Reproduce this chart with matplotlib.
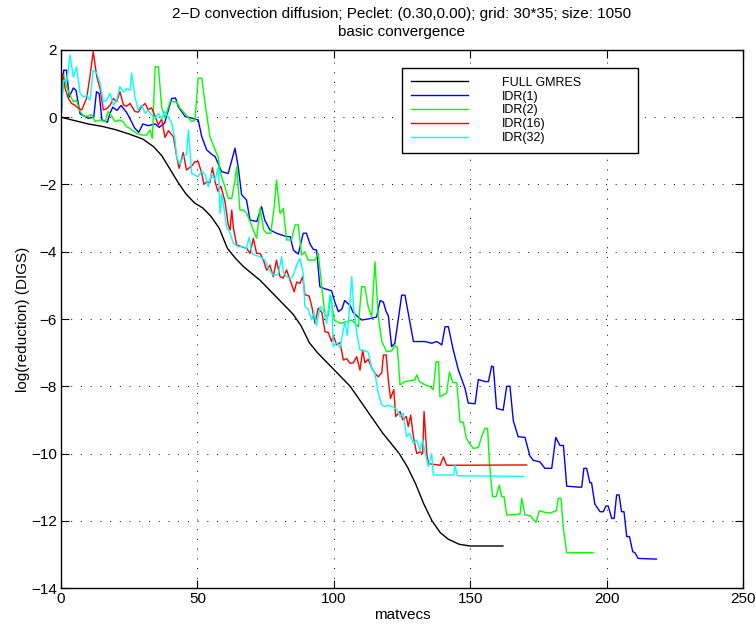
import matplotlib
matplotlib.use("Agg")
import matplotlib.pyplot as plt

plt.rcParams['font.family'] = ['Liberation Sans', 'DejaVu Sans']

# ---- data: (matvecs, log reduction) ----
full_gmres = [(0, 0), (5, -0.1), (10, -0.2), (15, -0.27), (20, -0.37), (25, -0.5),
              (30, -0.65), (34, -0.88), (37, -1.15), (40, -1.55), (43, -1.95),
              (46, -2.3), (49, -2.55), (52, -2.7), (55, -2.95), (58, -3.3),
              (61, -3.9), (64, -4.2), (67, -4.45), (70, -4.65), (73, -4.85),
              (76, -5.1), (79, -5.35), (82, -5.6), (85, -5.85), (88, -6.2),
              (91, -6.7), (94, -7.0), (97, -7.25), (100, -7.5), (103, -7.75),
              (106, -8.0), (109, -8.35), (112, -8.7), (115, -9.05), (118, -9.4),
              (121, -9.7), (124, -10.0), (127, -10.4), (130, -10.9), (133, -11.5),
              (136, -12.0), (139, -12.35), (142, -12.55), (146, -12.7),
              (150, -12.75), (162, -12.75)]

idr1 = [(0, 0), (1, 1.4), (2, 1.4), (3, 0.6), (4.5, 0.87), (5.5, 0.8), (7, 0.1),
        (10, -0.03), (12, 0), (13, 0.76), (14, 0.7), (15, -0.08), (17, -0.15),
        (18, 0.13), (19, 0.3), (20.5, 0.2), (22, 0.35), (24, 0.15), (25, 0),
        (27, -0.32), (28.5, -0.45), (30, -0.2), (32, -0.25), (34.5, -0.2),
        (36, -0.3), (38, -0.17), (40.6, 0.56), (42, 0.57), (43, 0.31),
        (45.5, 0.02), (48, -0.03), (50.3, -0.08), (51.6, -0.58), (53.4, -0.97),
        (55.2, -1.1), (56.5, -1.17), (58.9, -1.62), (61.3, -1.67), (63.8, -0.92),
        (65, -1.5), (66.2, -2.3), (68, -2.46), (69.3, -3.06), (71.8, -3.1),
        (73.5, -2.66), (74.7, -3.06), (76.6, -3.35), (79, -3.45), (80.8, -3.5),
        (82.7, -3.55), (84, -3.55), (85.2, -3.95), (87, -4.07), (88.8, -3.45),
        (90, -3.45), (91.3, -3.77), (92.5, -3.93), (93.7, -3.95), (94.9, -5.04),
        (96.7, -5.1), (99.2, -5.16), (100.4, -5.5), (101.7, -5.78), (103, -5.7),
        (104, -5.45), (106, -5.6), (107.1, -5.81), (110.2, -6.03), (112.6, -6.0),
        (115.7, -5.94), (117, -5.45), (118.2, -5.5), (119.2, -5.78), (120, -5.9),
        (121.2, -6.82), (122.4, -6.72), (124.9, -5.29), (126.1, -5.29),
        (127.3, -5.83), (129.2, -6.67), (133.5, -6.67), (135.9, -6.72),
        (137.8, -6.67), (139.6, -6.77), (140.8, -6.23), (142, -6.23),
        (143.8, -6.92), (145.7, -7.52), (148.1, -8.06), (149.3, -8.5),
        (151.8, -8.52), (153, -7.8), (155.5, -7.86), (156.7, -7.86), (157.9, -7.4),
        (158.5, -7.42), (159.7, -8.66), (162.1, -8.71), (163.4, -8.0),
        (164.6, -8.0), (165.8, -9.02), (167.6, -9.5), (170.1, -9.52),
        (171.9, -10.07), (173.1, -10.2), (175.6, -10.25), (177.4, -10.44),
        (179.9, -10.44), (181.4, -9.52), (182.9, -9.76), (184.2, -9.76),
        (185.4, -10.97), (189.7, -11.0), (190.9, -11.0), (191.7, -10.44),
        (192.7, -10.44), (193.9, -10.87), (194.5, -10.87), (195.7, -11.5),
        (197.6, -11.73), (198.8, -11.73), (199.8, -11.56), (200.6, -11.56),
        (201.9, -11.93), (202.8, -11.93), (203.7, -11.23), (204.6, -11.23),
        (205.5, -11.73), (206.4, -11.73), (207.4, -12.47), (208.4, -12.47),
        (209.6, -12.92), (210.4, -12.95), (211.6, -13.12), (218.3, -13.14)]

idr2 = [(0, 0), (0.9, 1.26), (2.1, 0.9), (3.3, 0.66), (4.5, 0.46), (5.7, 0.5),
        (7, 0.17), (8.3, 0.03), (10, 0.03), (11.2, 0.08), (12.5, -0.13),
        (14.3, -0.08), (16.2, -0.13), (17.3, 0.17), (18.6, 0.03), (19.8, -0.13),
        (21.6, -0.08), (22.8, -0.13), (24, -0.28), (25.3, -0.33), (27.7, -0.48),
        (29.6, -0.53), (31.4, -0.53), (32.6, -0.38), (33.5, -0.63), (34.5, 1.5),
        (35.7, 1.5), (36.9, 0.31), (38.1, -0.03), (40, 0.46), (42.4, 0.46),
        (43.6, 0.27), (45.5, 0.1), (47.9, -0.13), (49.1, -0.08), (50.3, 1.16),
        (51.6, 1.16), (52.8, 0.41), (54.6, -0.58), (56.5, -0.97), (57.7, -1.2),
        (58.3, -1.62), (60.1, -2.07), (61.3, -2.41), (62.6, -2.41), (63.8, -1.87),
        (64.4, -1.47), (65, -2.1), (65.6, -2.76), (66.8, -2.76), (68.1, -2.86),
        (69.3, -3.1), (70.5, -3.35), (71.7, -3.6), (73, -2.71), (74.3, -3.35),
        (75.4, -3.45), (76.9, -3.45), (78.1, -2.71), (79, -1.87), (80.3, -2.86),
        (81.5, -2.71), (82.7, -3.65), (84.5, -3.65), (85.8, -3.2), (87, -3.2),
        (88.2, -4.1), (89.4, -4.0), (90.6, -4.25), (93, -4.25), (94.3, -4.05),
        (95.6, -5.04), (96.8, -5.9), (98, -5.9), (98.8, -5.3), (100.2, -6.03),
        (102.3, -6.13), (104.7, -6.08), (106.6, -6.03), (109, -6.23),
        (110.2, -5.04), (111.4, -5.04), (112.6, -5.63), (113.9, -5.93),
        (115.1, -4.3), (116.3, -5.93), (117.6, -6.67), (119.4, -6.97),
        (121.2, -6.95), (122.4, -6.77), (123.3, -6.85), (124.3, -7.96),
        (126.1, -7.86), (129.8, -7.81), (130.4, -7.66), (131.4, -7.86),
        (133.5, -7.96), (135.3, -8.01), (136.5, -8.1), (137.5, -7.27),
        (138.4, -7.27), (138.9, -8.31), (140.2, -8.26), (141.4, -8.2),
        (142.4, -7.57), (143.6, -7.88), (145.1, -7.9), (146.3, -9.07),
        (147.5, -9.07), (148.6, -9.55), (149.8, -9.7), (151.1, -9.85),
        (153, -9.82), (154.2, -9.5), (155.4, -9.25), (156.4, -9.25),
        (157, -10.19), (158.2, -11.28), (159.5, -11.28), (160.7, -10.94),
        (161.5, -11.28), (162.4, -11.28), (163.4, -11.83), (168.3, -11.8),
        (168.9, -11.33), (170.1, -11.83), (172, -11.85), (174.1, -12.05),
        (175.4, -11.7), (177.4, -11.75), (179.3, -11.77), (181.6, -11.7),
        (182.3, -11.33), (183.3, -11.33), (184.1, -12.18), (185.4, -12.95),
        (195.1, -12.95)]

idr16 = [(0, 0), (0.5, 1.3), (1.6, 0.83), (2.7, 0.56), (3.9, 0.41), (5.1, 0.36),
         (6.3, 0.27), (7.6, 0.22), (9.4, 0.56), (10.6, 1.21), (11.8, 1.95),
         (13.1, 1.21), (14.3, 0.86), (15.5, 0.22), (16.7, 0.25), (18, 0.36),
         (19.2, 0.56), (20.4, 0.46), (21.6, 0.76), (22.9, 0.36), (24.1, 0.33),
         (25.3, 0.41), (27.1, 0.17), (28.3, 0.15), (29.6, 0.31), (30.8, 0.41),
         (32, 0.22), (33.2, 0.28), (34.5, 0.03), (35.7, -0.23), (36.9, -0.05),
         (38.1, -0.6), (39.4, -0.4), (41.2, -0.58), (42.4, -1.17), (43.3, -1.52),
         (44.8, -1.05), (46, -1.57), (47.9, -1.45), (49.1, -1.32), (50.3, -1.32),
         (51.6, -1.67), (52.4, -2.0), (53.4, -1.92), (54.6, -1.95), (55.5, -1.5),
         (56.5, -1.92), (57.5, -2.2), (58.6, -2.05), (60.1, -2.5), (61.3, -3.2),
         (62, -3.35), (62.6, -2.76), (63.2, -3.3), (64.4, -3.8), (66.2, -3.85),
         (68.1, -3.9), (69.3, -4.05), (70.5, -3.6), (71.7, -4.05), (73, -4.05),
         (74.2, -4.25), (75.4, -4.55), (76.6, -4.4), (77.8, -4.74), (79, -4.25),
         (80.3, -4.74), (81.5, -4.78), (82.7, -4.54), (84, -4.85), (85.5, -5.19),
         (86.4, -4.9), (87.6, -4.94), (88.6, -4.74), (89.4, -5.27), (91, -5.32),
         (92, -5.65), (93.1, -6.13), (94.3, -5.68), (95.6, -5.8), (96.8, -6.38),
         (98, -6.4), (99.2, -6.67), (99.8, -6.5), (101.1, -6.77), (102.3, -6.7),
         (103.5, -7.22), (104.7, -7.18), (106, -7.32), (107.2, -7.3),
         (108.4, -7.12), (109.6, -7.52), (110.6, -6.92), (111.4, -7.3),
         (112.6, -7.2), (113.9, -7.45), (115.1, -7.62), (116.3, -7.72),
         (117.6, -7.6), (118.2, -7.07), (119.2, -7.07), (120, -7.81),
         (120.8, -8.36), (122, -8.1), (122.7, -8.9), (124.3, -8.75),
         (125.3, -9.0), (126.6, -8.9), (127.3, -9.2), (128.2, -8.86),
         (129.2, -9.5), (130.4, -10.0), (131.6, -9.95), (132.6, -10.0),
         (133.1, -8.75), (134.1, -10.0), (134.7, -10.3), (139, -10.35),
         (140.2, -10.1), (141.4, -10.35), (170.7, -10.34)]

idr32 = [(0, 0), (0.9, 1.1), (2.1, 1.05), (3.3, 1.85), (4.5, 1.2), (5.7, 1.5),
         (7, 0.71), (8.3, 0.6), (9.5, 0.65), (10.6, 0.51), (11.8, 1.4),
         (13.1, 1.31), (14.3, 1.01), (15.5, 0.46), (16.7, 0.5), (18, 0.71),
         (19.2, 0.36), (20.4, 0.5), (21.6, 0.91), (22.9, 0.75), (24.1, 0.85),
         (25.3, 0.8), (25.9, 1.31), (27.1, 0.62), (28.3, 0.22), (29.6, 0.36),
         (30.8, 0.12), (32, 0.2), (33.2, 0.07), (34.5, -0.03), (35.7, 0.12),
         (36.9, -0.05), (38.1, 0.17), (40.6, -0.18), (41.8, -0.68), (42.4, -1.2),
         (43.6, -1.4), (44.8, -1.17), (46, -1.1), (46.7, -0.38), (47.9, -1.67),
         (49.1, -1.72), (50.3, -1.77), (51.6, -1.6), (52.8, -1.7), (54, -2.07),
         (55.2, -1.67), (56.5, -1.87), (57.7, -1.47), (58.3, -2.86), (58.9, -2.3),
         (59.5, -2.55), (60.7, -3.26), (62, -3.45), (63.2, -3.75), (65, -3.85),
         (66.8, -3.85), (68, -3.9), (69, -3.57), (70, -4.05), (71.1, -4.1),
         (73, -4.15), (74.8, -4.25), (76, -4.5), (77.8, -4.69), (79.6, -4.69),
         (80.9, -4.15), (81.5, -4.6), (82.7, -4.74), (84, -4.8), (85.2, -4.7),
         (86.4, -4.39), (87.6, -4.2), (88.8, -4.64), (89.4, -5.63), (90.6, -5.7),
         (91.9, -6.03), (92.8, -5.8), (93.6, -6.2), (95, -5.63), (96.2, -5.75),
         (97.4, -6.13), (98.6, -5.29), (99.2, -5.35), (99.8, -6.82), (101, -6.7),
         (102.3, -6.85), (104.1, -6.08), (105, -6.5), (106.6, -4.74),
         (107.2, -5.6), (108.4, -6.43), (109.6, -6.92), (111.4, -6.95),
         (112.6, -6.98), (113.9, -7.47), (115.1, -7.62), (116.3, -8.21),
         (117.6, -8.56), (118.8, -8.6), (120, -8.56), (121.8, -8.62),
         (123.3, -8.71), (124.3, -8.9), (125.5, -8.8), (126.7, -9.5),
         (127.9, -9.4), (129.2, -9.7), (130.4, -9.6), (131.6, -9.9),
         (132.6, -9.6), (133.8, -10.09), (134.7, -10.39), (135.9, -10.0),
         (136.5, -10.64), (144, -10.64), (144.4, -10.34), (145.3, -10.66),
         (169.5, -10.68)]

series = [(full_gmres, '#000000', 'FULL GMRES'),
          (idr1, '#0000ff', 'IDR(1)'),
          (idr2, '#00ff00', 'IDR(2)'),
          (idr16, '#ff0000', 'IDR(16)'),
          (idr32, '#00ffff', 'IDR(32)')]

title_text = "2\u2212D convection diffusion; Peclet: (0.30,0.00); grid: 30*35; size: 1050\nbasic convergence"

# ---- plot ----
fig = plt.figure(figsize=(7.56, 6.31), dpi=100)
ax = fig.add_axes([0.0807, 0.0681, 0.902, 0.8527])

for pts, col, lab in series:
    xs = [p[0] for p in pts]
    ys = [p[1] for p in pts]
    ax.plot(xs, ys, color=col, lw=1.0, label=lab)

ax.set_xlim(0, 250)
ax.set_ylim(-14, 2)
ax.set_xticks(range(0, 251, 50))
ax.set_yticks(range(-14, 3, 2))
ax.grid(True, color='k', linestyle=(0, (1, 9)), linewidth=0.7)
ax.tick_params(direction='in', length=6, top=True, right=True, labelsize=11, pad=3)
for s in ax.spines.values():
    s.set_linewidth(1.0)

ax.set_xlabel("matvecs", fontsize=11, labelpad=1)
ax.set_ylabel("log(reduction) (DIGS)", fontsize=11, labelpad=1)
ax.set_title(title_text, fontsize=11, pad=10, linespacing=1.35)

leg = ax.legend(loc='upper left', bbox_to_anchor=(0.5, 0.81, 0.346, 0.1565),
                mode='expand', fontsize=9, frameon=True, fancybox=False,
                edgecolor='k', framealpha=1, borderpad=0.7, labelspacing=0.15,
                handlelength=4.6, handletextpad=2.7, borderaxespad=0)
leg.get_frame().set_linewidth(1.0)

fig.savefig("out.png", dpi=100)
